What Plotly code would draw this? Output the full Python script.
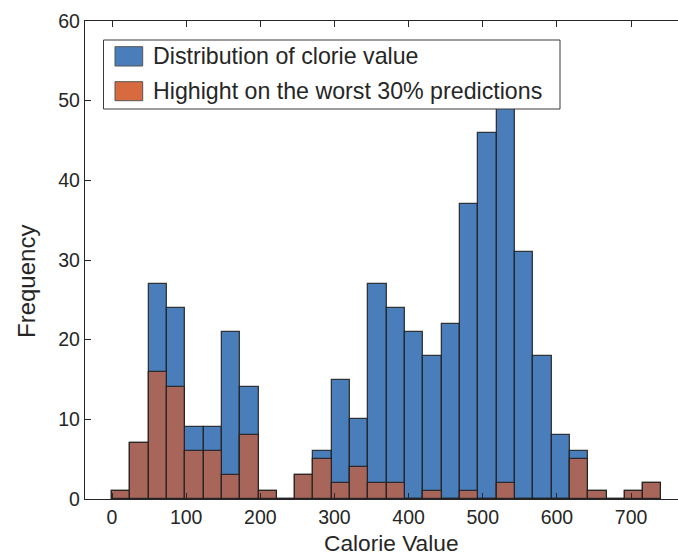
import plotly.graph_objects as go

# ---- data ----
bin_start = 0.0
bin_width = 24.7
all_counts = [1, 7, 27, 24, 9, 9, 21, 14, 1, 0, 3, 6, 15, 10, 27, 24, 21, 18, 22, 37,
              46, 51, 31, 18, 8, 6, 1, 0, 1, 2]
worst_counts = [1, 7, 16, 14, 6, 6, 3, 8, 1, 0, 3, 5, 2, 4, 2, 2, 0, 1, 0, 1,
                0, 2, 0, 0, 0, 5, 1, 0, 1, 2]
x_ticks = [0, 100, 200, 300, 400, 500, 600, 700]
y_ticks = [0, 10, 20, 30, 40, 50, 60]
legend_labels = ["Distribution of clorie value", "Highight on the worst 30% predictions"]
x_title = "Calorie Value"
y_title = "Frequency"

centers = [bin_start + bin_width * (i + 0.5) for i in range(len(all_counts))]

BLUE = "#4A7EBB"
BROWN = "#A8655A"
ORANGE = "#D86A40"
INK = "#262626"
FONT = "Liberation Sans, Arial, sans-serif"

W, H = 678, 555
L, T, B = 85, 21, 56
R = 0
PW = W - L - R
PH = H - T - B

def px(x):
    return (x - L) / PW

def py(y):
    return (H - B - y) / PH

fig = go.Figure()
fig.add_trace(go.Bar(x=centers, y=all_counts, width=bin_width,
                     marker=dict(color=BLUE, line=dict(color="rgba(30,30,30,0.85)", width=1.3)),
                     showlegend=False, name=legend_labels[0]))
fig.add_trace(go.Bar(x=centers, y=worst_counts, width=bin_width,
                     marker=dict(color=BROWN, line=dict(color="rgba(30,30,30,0.85)", width=1.3)),
                     showlegend=False, name=legend_labels[1]))

x_left = -(112 - L) / 0.7415
x_right = x_left + PW / 0.7415

shapes = []
annotations = []
# legend box
shapes.append(dict(type="rect", xref="x domain", yref="y domain",
                   x0=px(103.5), x1=px(560), y0=py(109), y1=py(40),
                   fillcolor="white", line=dict(color="#3a3a3a", width=1), layer="above"))
patch_y = [(46.7, 66), (81.7, 100.7)]
patch_c = [BLUE, ORANGE]
text_y = [56.5, 91.5]
for (y0, y1), c, ty, lab in zip(patch_y, patch_c, text_y, legend_labels):
    shapes.append(dict(type="rect", xref="x domain", yref="y domain",
                       x0=px(115), x1=px(142.7), y0=py(y1), y1=py(y0),
                       fillcolor=c, line=dict(color="#555555", width=1), layer="above"))
    annotations.append(dict(xref="x domain", yref="y domain", x=px(150.5), y=py(ty),
                            text=lab, showarrow=False, xanchor="left", yanchor="middle",
                            font=dict(family=FONT, size=23.2, color=INK)))

annotations.append(dict(xref="x domain", yref="y domain", x=px(391), y=py(543),
                        text=x_title, showarrow=False, xanchor="center", yanchor="middle",
                        font=dict(family=FONT, size=22.7, color=INK)))
annotations.append(dict(xref="x domain", yref="y domain", x=px(26), y=py(282),
                        text=y_title, showarrow=False, xanchor="center", yanchor="middle",
                        textangle=-90,
                        font=dict(family=FONT, size=24, color=INK)))

fig.update_layout(
    width=W, height=H,
    margin=dict(l=L, r=R, t=T, b=B, pad=0),
    paper_bgcolor="white", plot_bgcolor="white",
    barmode="overlay", bargap=0,
    font=dict(family=FONT, size=19, color=INK),
    shapes=shapes, annotations=annotations,
    showlegend=False,
)
fig.update_xaxes(range=[x_left, x_right], tickvals=x_ticks, ticks="inside", ticklen=6,
                 tickcolor=INK, tickwidth=1.2, showline=True, linecolor=INK, linewidth=1.3,
                 mirror="ticks", showgrid=False, zeroline=False,
                 tickfont=dict(family=FONT, size=19.5, color=INK))
fig.update_yaxes(range=[0, 60], tickvals=y_ticks, ticks="inside", ticklen=6,
                 tickcolor=INK, tickwidth=1.2, showline=True, linecolor=INK, linewidth=1.3,
                 mirror=False, showgrid=False, zeroline=False,
                 tickfont=dict(family=FONT, size=19.5, color=INK))

fig.write_html("out.html")
